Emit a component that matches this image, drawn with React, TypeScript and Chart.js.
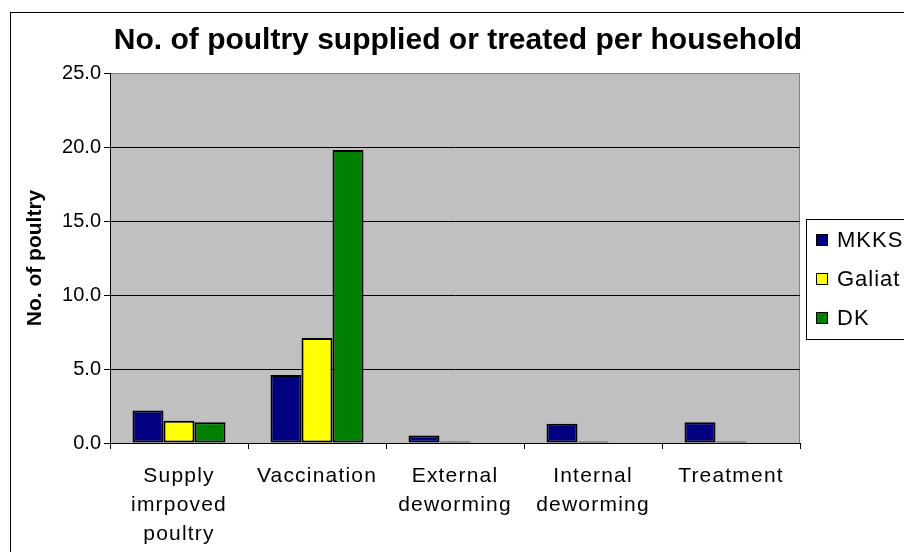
import { useEffect, useRef } from "react";
import { Chart, registerables } from "chart.js";

Chart.register(...registerables);

// Categories (multi-line labels as arrays)
const categories: (string | string[])[] = [
  ["Supply", "imrpoved", "poultry"],
  "Vaccination",
  ["External", "deworming"],
  ["Internal", "deworming"],
  "Treatment",
];

const seriesNames = ["MKKS", "Galiat", "DK"];
const seriesColors = ["#000080", "#FFFF00", "#008000"];

const mkksValues = [2.2, 4.6, 0.5, 1.3, 1.4];
const galiatValues = [1.5, 7.1, 0.1, 0.1, 0.1];
const dkValues = [1.4, 19.8, 0, 0, 0];

const yMin = 0;
const yMax = 25;
const yStep = 5;

const FONT = "'Liberation Sans', Arial, sans-serif";

// Grey plot area, outer frame and white page background
const backdrop = {
  id: "backdrop",
  beforeDraw(chart: any) {
    const { ctx, chartArea } = chart;
    const { left, top, right, bottom } = chartArea;
    ctx.save();
    ctx.fillStyle = "#ffffff";
    ctx.fillRect(0, 0, chart.width, chart.height);
    ctx.strokeStyle = "#000000";
    ctx.lineWidth = 1;
    ctx.strokeRect(10.5, 12.5, chart.width + 20, chart.height + 20);
    ctx.fillStyle = "#C0C0C0";
    ctx.fillRect(left, top, right - left, bottom - top);
    ctx.strokeStyle = "#808080";
    ctx.beginPath();
    ctx.moveTo(left, top + 0.5);
    ctx.lineTo(right - 0.5, top + 0.5);
    ctx.lineTo(right - 0.5, bottom);
    ctx.stroke();
    ctx.restore();

    // slightly spaced category labels
    const xScale = chart.scales.x;
    if (xScale && !xScale.__spaced) {
      const orig = xScale.drawLabels;
      xScale.drawLabels = function (area: any) {
        const c = this.ctx;
        c.save();
        c.letterSpacing = "1.2px";
        orig.call(this, area);
        c.restore();
      };
      xScale.__spaced = true;
    }
  },
};

// Boxed legend to the right of the plot
const boxedLegend = {
  id: "boxedLegend",
  afterDraw(chart: any) {
    const { ctx, chartArea } = chart;
    const datasets = chart.data.datasets;
    const boxLeft = chartArea.right + 6;
    const midY = (chartArea.top + chartArea.bottom) / 2;
    const rowGap = 39;
    const boxH = 120;
    const boxTop = Math.round(midY - 39);
    ctx.save();
    ctx.strokeStyle = "#000";
    ctx.lineWidth = 1;
    ctx.strokeRect(boxLeft + 0.5, boxTop + 0.5, 200, boxH);
    ctx.font = `22px ${FONT}`;
    ctx.letterSpacing = "1px";
    ctx.textBaseline = "middle";
    ctx.textAlign = "left";
    datasets.forEach((ds: any, i: number) => {
      const cy = boxTop + 21 + i * rowGap;
      ctx.fillStyle = seriesColors[i];
      ctx.fillRect(boxLeft + 10, cy - 6, 12, 12);
      ctx.strokeStyle = "#000";
      ctx.strokeRect(boxLeft + 10.5, cy - 5.5, 11, 11);
      ctx.fillStyle = "#000";
      ctx.fillText(ds.label, boxLeft + 31, cy + 1);
    });
    ctx.restore();
  },
};

export default function App() {
  const canvasRef = useRef<HTMLCanvasElement | null>(null);

  useEffect(() => {
    if (!canvasRef.current) return;
    const values = [mkksValues, galiatValues, dkValues];
    const chart = new Chart(canvasRef.current, {
      type: "bar",
      data: {
        labels: categories,
        datasets: values.map((v, i) => ({
          label: seriesNames[i],
          data: v,
          // bars thinner than their outline render as a solid outline
          backgroundColor: (c: any) =>
            c.raw !== undefined && c.raw > 0 && c.raw < 0.2 ? "#000000" : seriesColors[i],
          borderColor: "#000000",
          borderWidth: 2,
          borderSkipped: false,
          categoryPercentage: 0.674,
          barPercentage: 1.0,
          yAxisID: "y",
        })),
      },
      options: {
        responsive: false,
        animation: false,
        devicePixelRatio: 1,
        layout: { padding: { left: 12, right: 0, top: 0, bottom: 0 } },
        plugins: {
          legend: { display: false },
          tooltip: { enabled: false },
          title: {
            display: true,
            text: "No. of poultry supplied or treated per household",
            color: "#000",
            font: { family: FONT, size: 30, weight: "bold" },
            padding: { top: 23, bottom: 14 },
          },
        },
        scales: {
          x: {
            grid: {
              display: true,
              drawOnChartArea: false,
              drawTicks: true,
              tickLength: 6,
              tickColor: "#000",
              color: "#000",
              offset: true,
            },
            border: { display: true, color: "#000", width: 1 },
            ticks: {
              color: "#000",
              font: { family: FONT, size: 21, lineHeight: 1.37 },
              autoSkip: false,
              maxRotation: 0,
              minRotation: 0,
              padding: 13,
            },
            afterFit(scale: any) {
              scale.height = 109;
            },
          },
          y: {
            position: "left",
            min: yMin,
            max: yMax,
            ticks: {
              stepSize: yStep,
              color: "#000",
              font: { family: FONT, size: 20 },
              padding: 3,
              callback: (v: any) => Number(v).toFixed(1),
            },
            grid: {
              color: (c: any) => (c.tick && c.tick.value === yMax ? "rgba(0,0,0,0)" : "#000"),
              tickColor: "#000",
              tickLength: 6,
              lineWidth: 1,
            },
            border: { display: true, color: "#000", width: 1 },
            title: {
              display: true,
              text: "No. of poultry",
              color: "#000",
              font: { family: FONT, size: 21, weight: "bold" },
              padding: { top: 11, bottom: 0 },
            },
            afterFit(scale: any) {
              scale.width = 98;
            },
          },
          // reserves the strip on the right for the boxed legend
          legendSpace: {
            type: "linear",
            position: "right",
            display: true,
            grid: { display: false },
            border: { display: false },
            ticks: { display: false },
            afterFit(scale: any) {
              scale.width = 104;
            },
          },
        },
      },
      plugins: [backdrop, boxedLegend],
    } as any);
    return () => chart.destroy();
  }, []);

  return (
    <div style={{ position: "absolute", left: 0, top: 0, width: 904, height: 552 }}>
      <canvas ref={canvasRef} width={904} height={552} />
    </div>
  );
}
